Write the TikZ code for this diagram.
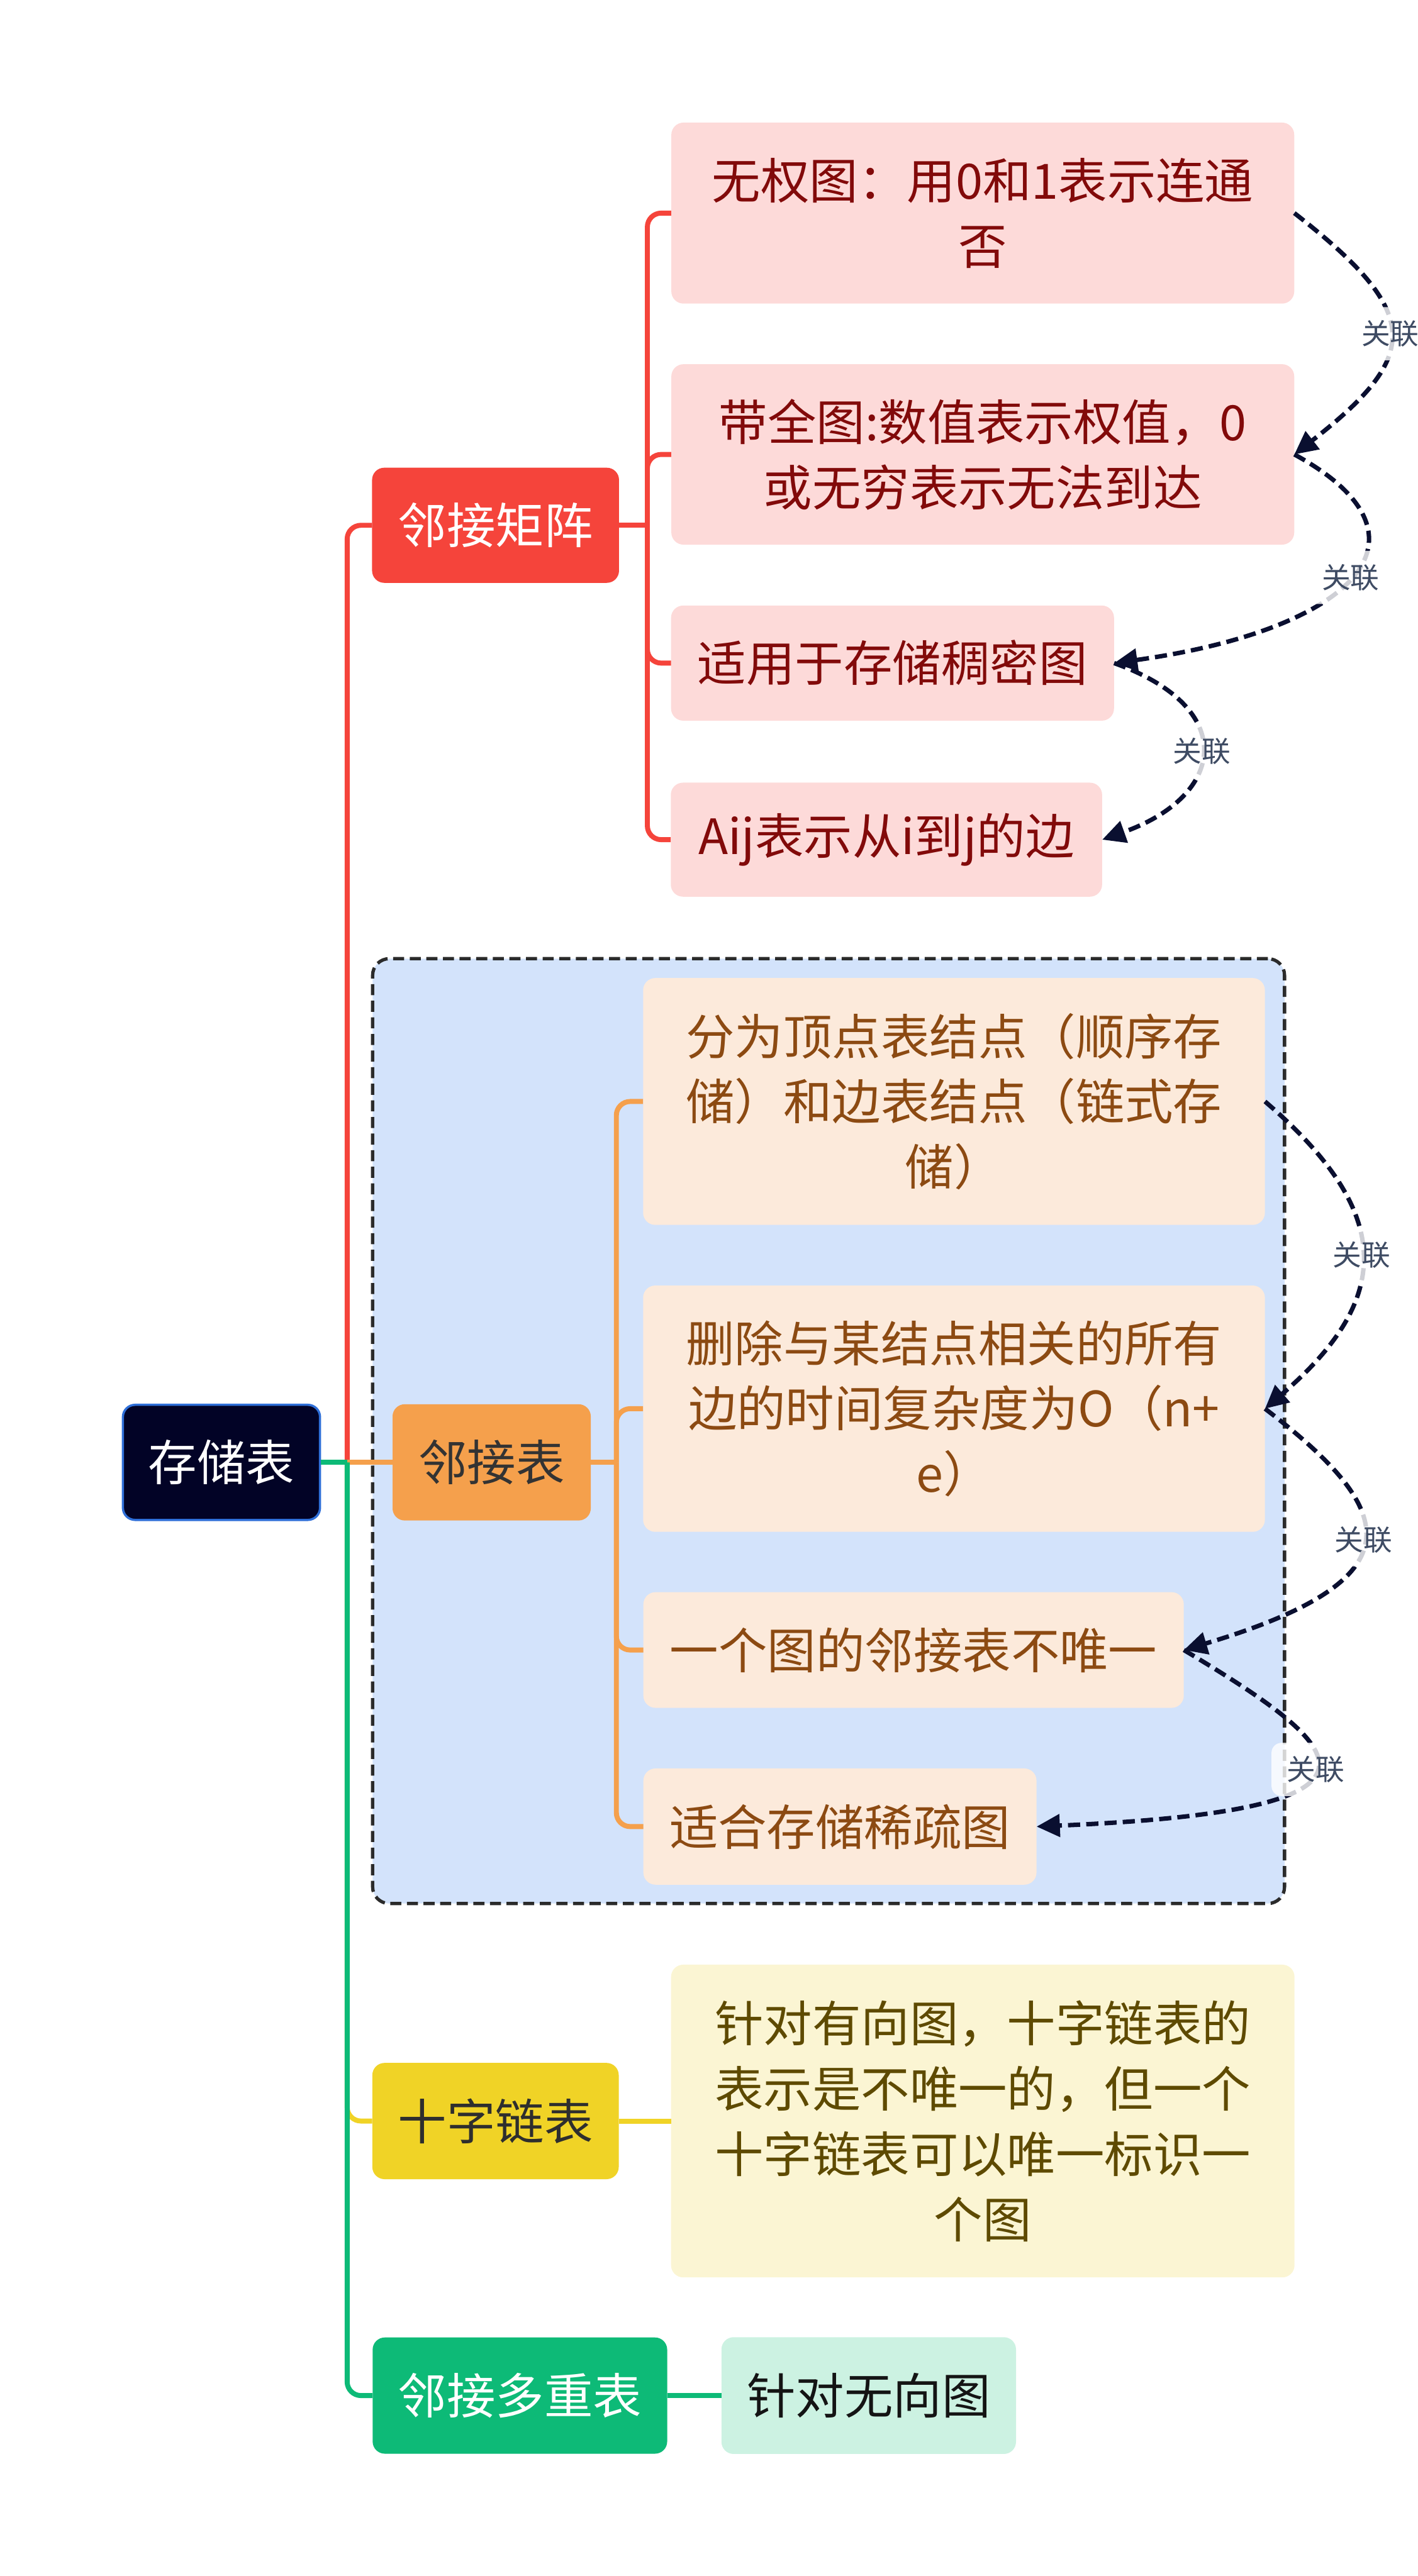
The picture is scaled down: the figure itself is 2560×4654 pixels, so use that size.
\documentclass[tikz,border=0pt]{standalone}
\usepackage{fontspec}
\setmainfont{Noto Sans CJK SC}
\usetikzlibrary{arrows.meta}
\definecolor{rootfill}{HTML}{020326}
\definecolor{rootdraw}{HTML}{2F6FD8}
\definecolor{redc}{HTML}{F5443B}
\definecolor{orangec}{HTML}{F5A04C}
\definecolor{yellowc}{HTML}{F0D326}
\definecolor{greenc}{HTML}{0DBA77}
\definecolor{redlight}{HTML}{FDDAD9}
\definecolor{redtext}{HTML}{820A0A}
\definecolor{orlight}{HTML}{FCEADB}
\definecolor{ortext}{HTML}{8C4A12}
\definecolor{yelight}{HTML}{FBF5D3}
\definecolor{yetext}{HTML}{5E4A00}
\definecolor{grlight}{HTML}{CCF2E2}
\definecolor{grpfill}{HTML}{D3E3FB}
\definecolor{grpdraw}{HTML}{2B2B2B}
\definecolor{relc}{HTML}{0A0F30}
\definecolor{labc}{HTML}{3E4B63}
\begin{document}
\begin{tikzpicture}[x=1pt,y=-1pt,
  box/.style={rounded corners=22pt, inner sep=0pt, align=center,
    font=\fontsize{88}{118}\selectfont},
  rootbox/.style={box, fill=rootfill, draw=rootdraw, line width=4pt, text=white},
  redbox/.style={box, fill=redc, text=white},
  orbox/.style={box, fill=orangec, text=black!80},
  yebox/.style={box, fill=yellowc, text=black!82},
  grbox/.style={box, fill=greenc, text=white},
  redchild/.style={box, fill=redlight, text=redtext},
  orchild/.style={box, fill=orlight, text=ortext},
  yechild/.style={box, fill=yelight, text=yetext},
  grchild/.style={box, fill=grlight, text=black!92},
  conn/.style={line width=9pt, rounded corners=25pt},
  rel/.style={draw=relc, line width=8pt, dash pattern=on 22pt off 11pt,
    -{Triangle[length=42pt,width=40pt]}},
  lab/.style={font=\fontsize{52}{60}\selectfont, text=labc, fill=white,
    fill opacity=0.8, text opacity=1, rounded corners=18pt,
    inner xsep=28pt, inner ysep=24pt}
]
\useasboundingbox (0,0) rectangle (2560,4654);

% group box
\node[draw=grpdraw, fill=grpfill, line width=6pt, dash pattern=on 20pt off 10pt,
  rounded corners=30pt, minimum width=1647pt, minimum height=1707pt, inner sep=0pt]
  (grp) at (1496.5,2585.5) {};

% nodes
\node[rootbox, minimum width=356pt, minimum height=208pt] (root) at (400,2642) {存储表};
\node[redbox, minimum width=446pt, minimum height=208pt] (adjm) at (895,949) {邻接矩阵};
\node[orbox, minimum width=358pt, minimum height=210pt] (adjl) at (888,2642) {邻接表};
\node[yebox, minimum width=445pt, minimum height=210pt] (cross) at (895,3832) {十字链表};
\node[grbox, minimum width=532pt, minimum height=210pt] (multi) at (939,4328) {邻接多重表};

\node[redchild, minimum width=1125pt, minimum height=327pt] (c1) at (1775,385) {无权图：用0和1表示连通\\否};
\node[redchild, minimum width=1125pt, minimum height=326pt] (c2) at (1775,821) {带全图:数值表示权值，0\\或无穷表示无法到达};
\node[redchild, minimum width=800pt, minimum height=208pt] (c3) at (1612,1198) {适用于存储稠密图};
\node[redchild, minimum width=779pt, minimum height=206pt] (c4) at (1601,1517) {Aij表示从i到j的边};

\node[orchild, minimum width=1123pt, minimum height=446pt] (o1) at (1723,1990) {分为顶点表结点（顺序存\\储）和边表结点（链式存\\储）};
\node[orchild, minimum width=1123pt, minimum height=445pt] (o2) at (1723,2545) {删除与某结点相关的所有\\边的时间复杂度为O（n+\\e）};
\node[orchild, minimum width=976pt, minimum height=209pt] (o3) at (1650,2981) {一个图的邻接表不唯一};
\node[orchild, minimum width=710pt, minimum height=210pt] (o4) at (1517,3300) {适合存储稀疏图};

\node[yechild, minimum width=1126pt, minimum height=565pt] (y1) at (1775,3832) {针对有向图，十字链表的\\表示是不唯一的，但一个\\十字链表可以唯一标识一\\个图};
\node[grchild, minimum width=532pt, minimum height=211pt] (g1) at (1569,4328) {针对无向图};

% junction points
\coordinate (tr) at ([xshift=47pt]root.east);
\coordinate (rb) at ([xshift=51pt]adjm.east);
\coordinate (ob) at ([xshift=46pt]adjl.east);

% main branches
\draw[conn, draw=redc] (tr) |- (adjm.west);
\draw[conn, draw=orangec] (tr) -- (adjl.west);
\draw[conn, draw=yellowc] (tr) |- (cross.west);
\draw[conn, draw=greenc] (tr) |- (multi.west);
\draw[conn, draw=greenc] (root.east) -- (tr);

% sub branches
\draw[conn, draw=redc] (adjm.east) -- (rb);
\foreach \c in {c1,c2,c3,c4}{
  \draw[conn, draw=redc] (rb) |- (\c.west);
}
\draw[conn, draw=orangec] (adjl.east) -- (ob);
\foreach \c in {o1,o2,o3,o4}{
  \draw[conn, draw=orangec] (ob) |- (\c.west);
}
\draw[conn, draw=yellowc] (cross.east) -- (y1.west);
\draw[conn, draw=greenc] (multi.east) -- (g1.west);

% relations
\draw[rel] (c1.east) .. controls +(231,180) and +(231,-180) .. node[lab, pos=0.5] (l1) {关联} (c2.east);
\draw[rel] (c2.east) .. controls +(275,150) and +(430,-60) .. node[lab, pos=0.5] (l2) {关联} (c3.east);
\draw[rel] (c3.east) .. controls +(225,80) and +(225,-80) .. node[lab, pos=0.5] (l3) {关联} (c4.east);
\draw[rel] (o1.east) .. controls +(233,200) and +(233,-200) .. node[lab, pos=0.5] (l4) {关联} (o2.east);
\draw[rel] (o2.east) .. controls +(235,180) and +(435,-130) .. node[lab, pos=0.5] (l5) {关联} (o3.east);
\draw[rel] (o3.east) .. controls +(300,180) and +(690,-30) .. node[lab, pos=0.5] (l6) {关联} (o4.east);
\end{tikzpicture}
\end{document}
